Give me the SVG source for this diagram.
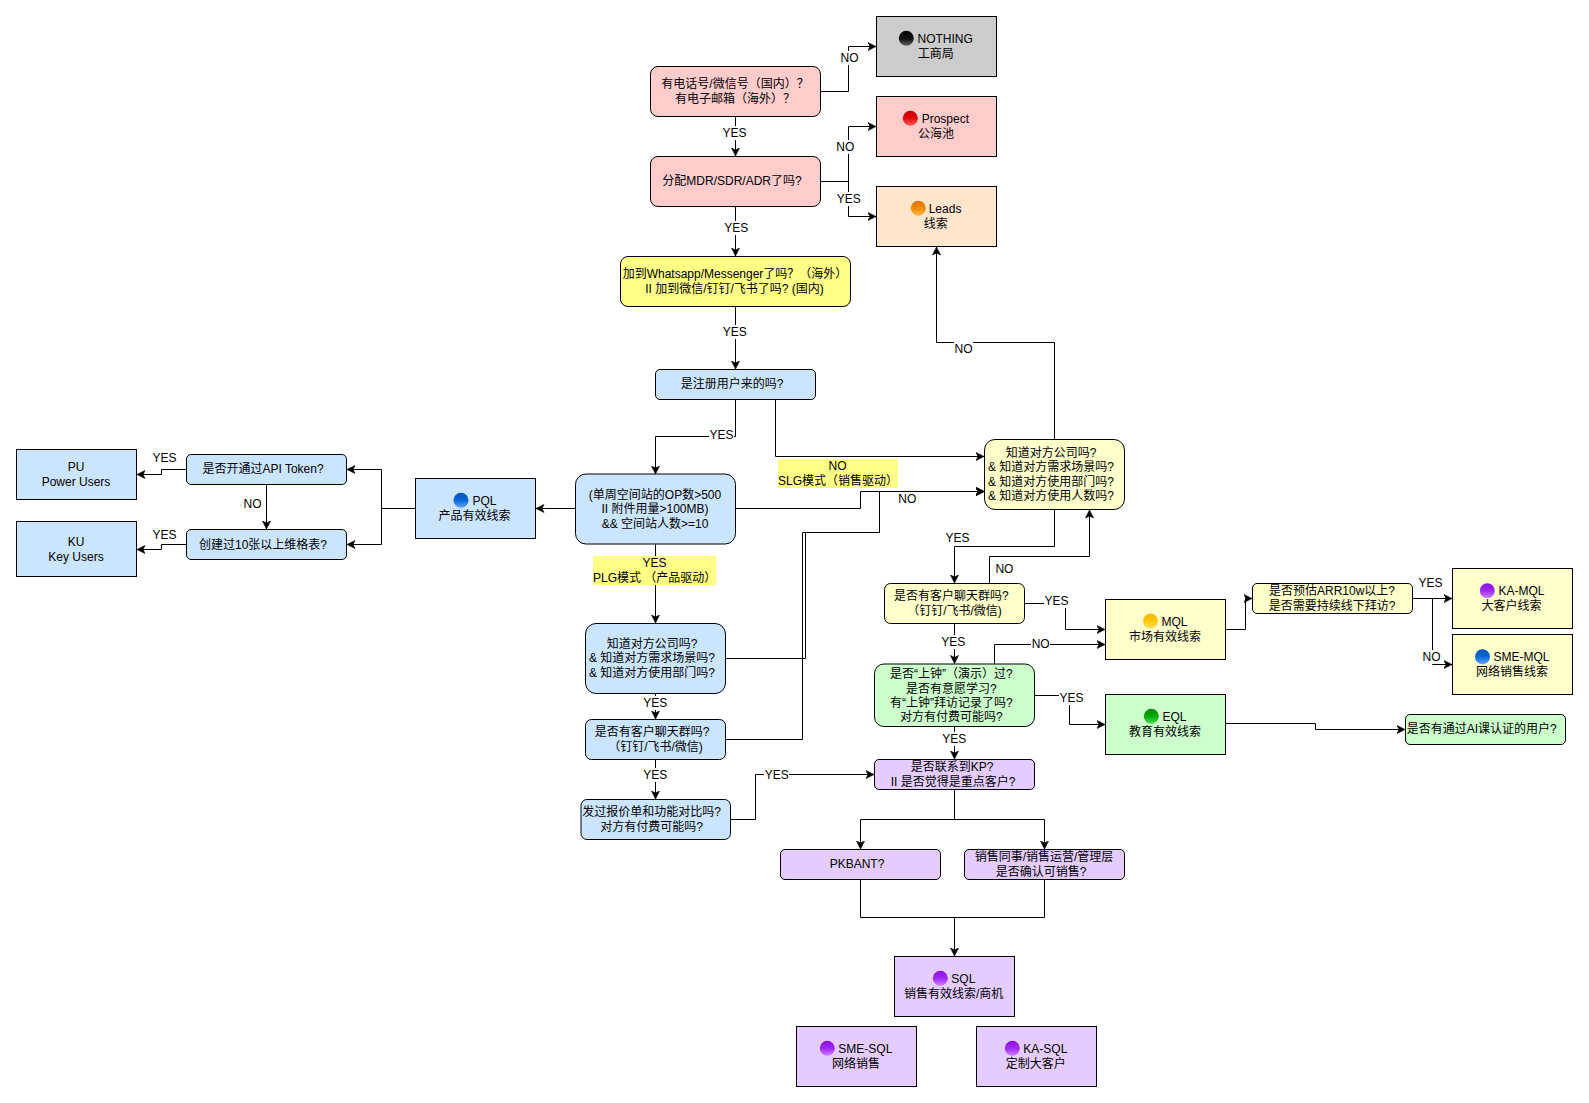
<svg xmlns="http://www.w3.org/2000/svg" width="1589" height="1103" viewBox="0 0 1589 1103">
<style>
text{font-family:"Liberation Sans","Noto Sans CJK SC",sans-serif;font-size:12px;fill:#000;text-anchor:middle}
.s{text-anchor:start}
.n{stroke:#000;stroke-width:1}
.pink{fill:#ffcccc}.yel{fill:#ffff88}.lyel{fill:#ffffcc}.blue{fill:#cce5ff}.grn{fill:#ccffcc}.pur{fill:#e5ccff}.org{fill:#ffe6cc}.gry{fill:#cccccc}
.c{fill:none;stroke:#000;stroke-width:1}
.a{marker-end:url(#arr)}
.w{fill:#fff}.hl{fill:#ffff88}
</style>
<defs>
<marker id="arr" markerUnits="userSpaceOnUse" markerWidth="9" markerHeight="9" viewBox="0 0 9 9" refX="8.5" refY="4.5" orient="auto"><path d="M8.5,4.5 L0.5,0.5 L2.5,4.5 L0.5,8.5 Z" fill="#000" stroke="#000" stroke-width="0.6"/></marker>
<linearGradient id="bk" x1="0" y1="0" x2="0" y2="1"><stop offset="0" stop-color="#000"/><stop offset=".55" stop-color="#111"/><stop offset="1" stop-color="#666"/></linearGradient>
<linearGradient id="rd" x1="0" y1="0" x2="0" y2="1"><stop offset="0" stop-color="#c80000"/><stop offset=".5" stop-color="#e40808"/><stop offset="1" stop-color="#ff6060"/></linearGradient>
<linearGradient id="og" x1="0" y1="0" x2="0" y2="1"><stop offset="0" stop-color="#dc7400"/><stop offset=".5" stop-color="#f08a08"/><stop offset="1" stop-color="#ffbb55"/></linearGradient>
<linearGradient id="ye" x1="0" y1="0" x2="0" y2="1"><stop offset="0" stop-color="#f5b800"/><stop offset=".5" stop-color="#ffc808"/><stop offset="1" stop-color="#ffe060"/></linearGradient>
<linearGradient id="bl" x1="0" y1="0" x2="0" y2="1"><stop offset="0" stop-color="#0050b8"/><stop offset=".5" stop-color="#0a68d8"/><stop offset="1" stop-color="#60a8f8"/></linearGradient>
<linearGradient id="gr" x1="0" y1="0" x2="0" y2="1"><stop offset="0" stop-color="#008800"/><stop offset=".5" stop-color="#08a808"/><stop offset="1" stop-color="#50dc50"/></linearGradient>
<linearGradient id="pu" x1="0" y1="0" x2="0" y2="1"><stop offset="0" stop-color="#8a10e0"/><stop offset=".5" stop-color="#a028f4"/><stop offset="1" stop-color="#cc80ff"/></linearGradient>
</defs>

<g id="connectors">
<path class="c a" d="M820.5,91.5H848.5V46.5H876"/>
<path class="c a" d="M735.5,116.5V156"/>
<path class="c a" d="M820.5,181.5H848.5V126.5H876"/>
<path class="c a" d="M820.5,181.5H848.5V216.5H876"/>
<path class="c a" d="M735.5,206.5V256"/>
<path class="c a" d="M735.5,306.5V369"/>
<path class="c a" d="M735.5,399.5V436.5H655.5V474"/>
<path class="c a" d="M775.5,399.5V456.5H984"/>
<path class="c a" d="M735.5,508.5H860.5V491.5H984"/>
<path class="c a" d="M725.5,658.5H805.5V532.5H879.5V491.5H984"/>
<path class="c a" d="M725.5,739.5H802.5V532.5H879.5V491.5H984"/>
<path class="c a" d="M655.5,544.5V623"/>
<path class="c a" d="M1054.5,439V342.5H936.5V247"/>
<path class="c a" d="M1054.5,509.5V546.5H954.5V583"/>
<path class="c a" d="M989.5,583.5V556.5H1089.5V510"/>
<path class="c a" d="M1024.5,603.5H1065.5V629.5H1105"/>
<path class="c a" d="M994.5,664V644.5H1105"/>
<path class="c a" d="M954.5,623.5V663.5"/>
<path class="c a" d="M1034.5,695.5H1069.5V724.5H1105"/>
<path class="c a" d="M954.5,726.5V759"/>
<path class="c a" d="M1225.5,723.5H1315.5V729.5H1405"/>
<path class="c a" d="M1225.5,629.5H1245.5V598.5H1252"/>
<path class="c a" d="M1412.5,598.5H1452"/>
<path class="c a" d="M1432.5,598.5V664.5H1452"/>
<path class="c a" d="M655.5,693.5V719"/>
<path class="c a" d="M655.5,759.5V799"/>
<path class="c a" d="M730.5,819.5H755.5V774.5H874"/>
<path class="c a" d="M954.5,789.5V819.5H860.5V849"/>
<path class="c a" d="M954.5,819.5H1044.5V849"/>
<path class="c" d="M860.5,879.5V917.5H1044.5V879.5"/>
<path class="c a" d="M954.5,917.5V956"/>
<path class="c a" d="M415.5,508.5H381.5V469.5H347"/>
<path class="c a" d="M381.5,508.5V544.5H347"/>
<path class="c a" d="M186.5,469.5H161.5V474.5H137"/>
<path class="c a" d="M186.5,544.5H161.5V549.5H137"/>
<path class="c a" d="M266.5,484.5V529"/>
<path class="c a" d="M575.5,508.5H536"/>
<g id="edge-labels">
<rect class="w" x="840" y="51" width="19" height="14"/><text x="849.5" y="61.5">NO</text>
<rect class="w" x="722" y="126" width="25" height="14"/><text x="734.5" y="137">YES</text>
<rect class="w" x="836" y="140" width="19" height="14"/><text x="845.3" y="150.5">NO</text>
<rect class="w" x="836" y="192" width="25" height="14"/><text x="848.7" y="203">YES</text>
<rect class="w" x="724" y="221" width="25" height="14"/><text x="736.3" y="232">YES</text>
<rect class="w" x="722" y="325" width="25" height="14"/><text x="734.7" y="336">YES</text>
<rect class="w" x="709" y="428" width="25" height="14"/><text x="721.5" y="439">YES</text>
<rect class="hl" x="778" y="459" width="120" height="29"/><text x="837.5" y="470">NO</text><text x="778" y="485" class="s">SLG模式（销售驱动）</text>
<text x="907.3" y="502.5">NO</text>
<rect class="hl" x="593" y="556" width="123" height="29"/><text x="654.5" y="566.5">YES</text><text x="593" y="581.5" class="s">PLG模式 （产品驱动）</text>
<rect class="w" x="954" y="341" width="19" height="14"/><text x="963.5" y="353">NO</text>
<text x="957.5" y="542">YES</text>
<text x="1004.4" y="572.5">NO</text>
<rect class="w" x="1044" y="594" width="25" height="14"/><text x="1056.4" y="604.5">YES</text>
<rect class="w" x="1031" y="638" width="19" height="14"/><text x="1040.7" y="648">NO</text>
<rect class="w" x="941" y="635" width="25" height="14"/><text x="953.3" y="646">YES</text>
<rect class="w" x="1059" y="691" width="25" height="14"/><text x="1071.6" y="702">YES</text>
<rect class="w" x="942" y="732" width="25" height="14"/><text x="954.3" y="742.5">YES</text>
<text x="1430.5" y="586.5">YES</text>
<rect class="w" x="1422" y="650" width="19" height="14"/><text x="1431.6" y="661">NO</text>
<rect class="w" x="643" y="696" width="25" height="14"/><text x="655.3" y="707">YES</text>
<rect class="w" x="643" y="768" width="25" height="14"/><text x="655.3" y="779">YES</text>
<rect class="w" x="764" y="768" width="25" height="14"/><text x="776.7" y="778.5">YES</text>
<text x="164.5" y="462">YES</text>
<text x="164.5" y="539">YES</text>
<rect class="w" x="243" y="496" width="19" height="14"/><text x="252.5" y="507.5">NO</text>
</g>
</g>

<g id="nothing"><rect class="n gry" x="876.5" y="16.5" width="120" height="60"/><circle cx="906.3" cy="38.3" r="7.5" fill="url(#bk)"/><text class="s" x="917.5" y="42.5">NOTHING</text><text x="935.7" y="58">工商局</text></g>
<g id="prospect"><rect class="n pink" x="876.5" y="96.5" width="120" height="60"/><circle cx="910.3" cy="118.3" r="7.5" fill="url(#rd)"/><text class="s" x="921.7" y="122.5">Prospect</text><text x="936" y="138">公海池</text></g>
<g id="leads"><rect class="n org" x="876.5" y="186.5" width="120" height="60"/><circle cx="918.3" cy="208.3" r="7.5" fill="url(#og)"/><text class="s" x="928.7" y="212.5">Leads</text><text x="935.7" y="228">线索</text></g>
<g id="q-phone"><rect class="n pink" x="650.5" y="66.5" width="170" height="50" rx="7.5"/><text x="735" y="88">有电话号/微信号（国内）？</text><text x="735" y="103">有电子邮箱（海外）？</text></g>
<g id="q-assign"><rect class="n pink" x="650.5" y="156.5" width="170" height="50" rx="7.5"/><text x="732" y="184.5">分配MDR/SDR/ADR了吗?</text></g>
<g id="q-whatsapp"><rect class="n yel" x="620.5" y="256.5" width="230" height="50" rx="7.5"/><text x="735" y="278">加到Whatsapp/Messenger了吗？（海外）</text><text x="734.5" y="293">II 加到微信/钉钉/飞书了吗? (国内)</text></g>
<g id="q-registered"><rect class="n blue" x="655.5" y="369.5" width="160" height="30" rx="4.5"/><text x="732" y="388">是注册用户来的吗?</text></g>
<g id="q-usage"><rect class="n blue" x="575.5" y="474" width="160" height="70" rx="10.5"/><text x="655" y="498.5">(单周空间站的OP数&gt;500</text><text x="655" y="512.5">II 附件用量&gt;100MB)</text><text x="655" y="527.5">&amp;&amp; 空间站人数&gt;=10</text></g>
<g id="pql"><rect class="n blue" x="415.5" y="478.5" width="120" height="60"/><circle cx="461" cy="500.3" r="7.5" fill="url(#bl)"/><text class="s" x="472.5" y="504.5">PQL</text><text x="474.6" y="520">产品有效线索</text></g>
<g id="q-api"><rect class="n blue" x="186.5" y="454.5" width="160" height="30" rx="4.5"/><text x="263" y="473">是否开通过API Token?</text></g>
<g id="q-table"><rect class="n blue" x="186.5" y="529.5" width="160" height="30" rx="4.5"/><text x="263" y="548.5">创建过10张以上维格表?</text></g>
<g id="pu-node"><rect class="n blue" x="16.5" y="449.5" width="120" height="50"/><text x="76" y="471">PU</text><text x="76" y="486">Power Users</text></g>
<g id="ku-node"><rect class="n blue" x="16.5" y="521.5" width="120" height="55"/><text x="76" y="546">KU</text><text x="76" y="561">Key Users</text></g>
<g id="q-know-blue"><rect class="n blue" x="585.5" y="623.5" width="140" height="70" rx="10.5"/><text x="652" y="647.5">知道对方公司吗?</text><text x="652" y="661.5">&amp; 知道对方需求场景吗?</text><text x="652" y="676.5">&amp; 知道对方使用部门吗?</text></g>
<g id="q-chat-blue"><rect class="n blue" x="585.5" y="719.5" width="140" height="40" rx="6"/><text x="652" y="736">是否有客户聊天群吗?</text><text x="655.5" y="750.5">（钉钉/飞书/微信)</text></g>
<g id="q-quote"><rect class="n blue" x="581" y="799.5" width="149.5" height="40" rx="6"/><text x="651.7" y="815.5">发过报价单和功能对比吗?</text><text x="651.7" y="831">对方有付费可能吗?</text></g>
<g id="q-know-yellow"><rect class="n lyel" x="984.5" y="439.5" width="140" height="70" rx="10.5"/><text x="1051" y="456.5">知道对方公司吗?</text><text x="1051" y="471">&amp; 知道对方需求场景吗?</text><text x="1051" y="486">&amp; 知道对方使用部门吗?</text><text x="1051" y="500">&amp; 知道对方使用人数吗?</text></g>
<g id="q-chat-yellow"><rect class="n lyel" x="884.5" y="583.5" width="140" height="40" rx="6"/><text x="951.3" y="600">是否有客户聊天群吗?</text><text x="954.5" y="615">（钉钉/飞书/微信)</text></g>
<g id="mql"><rect class="n lyel" x="1105.5" y="599.5" width="120" height="60"/><circle cx="1150.5" cy="621" r="7.5" fill="url(#ye)"/><text class="s" x="1161.5" y="625.5">MQL</text><text x="1165" y="641">市场有效线索</text></g>
<g id="q-arr"><rect class="n lyel" x="1252.5" y="583.5" width="160" height="30" rx="4.5"/><text x="1332" y="595">是否预估ARR10w以上?</text><text x="1332" y="610">是否需要持续线下拜访?</text></g>
<g id="ka-mql"><rect class="n lyel" x="1452.5" y="568.5" width="120" height="60"/><circle cx="1487.3" cy="590.7" r="7.5" fill="url(#pu)"/><text class="s" x="1498.5" y="595">KA-MQL</text><text x="1511.6" y="610">大客户线索</text></g>
<g id="sme-mql"><rect class="n lyel" x="1452.5" y="634.5" width="120" height="60"/><circle cx="1482.5" cy="656.7" r="7.5" fill="url(#bl)"/><text class="s" x="1493.5" y="661">SME-MQL</text><text x="1512" y="676">网络销售线索</text></g>
<g id="q-demo"><rect class="n grn" x="874.5" y="664" width="160" height="62.5" rx="9.4"/><text x="951.3" y="678" style="text-spacing-trim:space-all">是否“上钟”（演示）过?</text><text x="951.3" y="692.5">是否有意愿学习?</text><text x="951.3" y="707">有“上钟”拜访记录了吗?</text><text x="951.3" y="721">对方有付费可能吗?</text></g>
<g id="eql"><rect class="n grn" x="1105.5" y="694.5" width="120" height="60"/><circle cx="1151.3" cy="716.3" r="7.5" fill="url(#gr)"/><text class="s" x="1162.5" y="720.5">EQL</text><text x="1165" y="736">教育有效线索</text></g>
<g id="q-ai"><rect class="n grn" x="1405.5" y="714.5" width="160" height="30" rx="4.5"/><text x="1481.8" y="733">是否有通过AI课认证的用户?</text></g>
<g id="q-kp"><rect class="n pur" x="874.5" y="759.5" width="160" height="30" rx="4.5"/><text x="952" y="771">是否联系到KP?</text><text x="953" y="786">II 是否觉得是重点客户?</text></g>
<g id="q-pkbant"><rect class="n pur" x="780.5" y="849.5" width="160" height="30" rx="4.5"/><text x="857" y="867.5">PKBANT?</text></g>
<g id="q-confirm"><rect class="n pur" x="964.5" y="849.5" width="160" height="30" rx="4.5"/><text x="1044" y="861">销售同事/销售运营/管理层</text><text x="1041" y="876">是否确认可销售?</text></g>
<g id="sql"><rect class="n pur" x="894.5" y="956.5" width="120" height="60"/><circle cx="940.3" cy="978.3" r="7.5" fill="url(#pu)"/><text class="s" x="951.3" y="982.5">SQL</text><text x="953.7" y="998">销售有效线索/商机</text></g>
<g id="sme-sql"><rect class="n pur" x="796.5" y="1026.5" width="120" height="60"/><circle cx="827.3" cy="1048.3" r="7.5" fill="url(#pu)"/><text class="s" x="838.3" y="1052.5">SME-SQL</text><text x="856" y="1068">网络销售</text></g>
<g id="ka-sql"><rect class="n pur" x="976.5" y="1026.5" width="120" height="60"/><circle cx="1012.3" cy="1048.3" r="7.5" fill="url(#pu)"/><text class="s" x="1023.3" y="1052.5">KA-SQL</text><text x="1035.7" y="1068">定制大客户</text></g>
</svg>
